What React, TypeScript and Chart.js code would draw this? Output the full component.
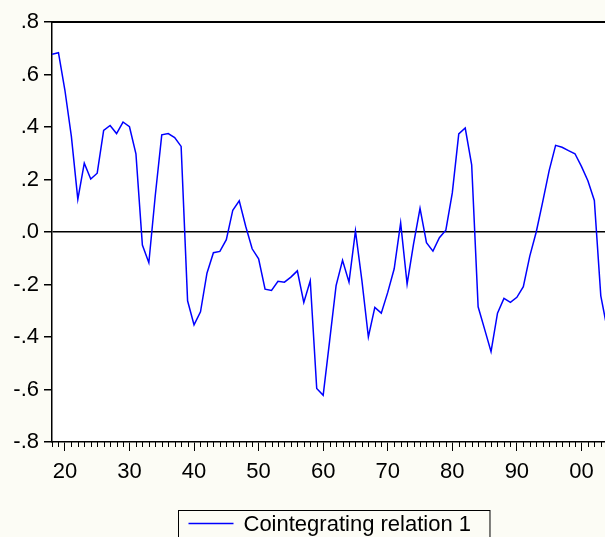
import React, { useEffect, useRef } from 'react';
import { Chart, registerables } from 'chart.js';

Chart.register(...registerables);

// ---- data ----
const years = [
  1918, 1919, 1920, 1921, 1922, 1923, 1924, 1925, 1926, 1927,
  1928, 1929, 1930, 1931, 1932, 1933, 1934, 1935, 1936, 1937,
  1938, 1939, 1940, 1941, 1942, 1943, 1944, 1945, 1946, 1947,
  1948, 1949, 1950, 1951, 1952, 1953, 1954, 1955, 1956, 1957,
  1958, 1959, 1960, 1961, 1962, 1963, 1964, 1965, 1966, 1967,
  1968, 1969, 1970, 1971, 1972, 1973, 1974, 1975, 1976, 1977,
  1978, 1979, 1980, 1981, 1982, 1983, 1984, 1985, 1986, 1987,
  1988, 1989, 1990, 1991, 1992, 1993, 1994, 1995, 1996, 1997,
  1998, 1999, 2000, 2001, 2002, 2003, 2004,
];

const cointegratingRelation1 = [
  0.677, 0.683, 0.54, 0.364, 0.124, 0.262, 0.202, 0.224, 0.387, 0.406,
  0.375, 0.419, 0.401, 0.298, -0.05, -0.117, 0.14, 0.37, 0.375, 0.36,
  0.326, -0.262, -0.354, -0.304, -0.157, -0.079, -0.074, -0.029, 0.083, 0.119,
  0.022, -0.064, -0.102, -0.218, -0.223, -0.188, -0.191, -0.172, -0.148, -0.268,
  -0.186, -0.596, -0.622, -0.415, -0.204, -0.108, -0.191, 0.004, -0.185, -0.4,
  -0.287, -0.309, -0.23, -0.14, 0.035, -0.198, -0.045, 0.09, -0.041, -0.073,
  -0.022, 0.007, 0.149, 0.374, 0.396, 0.256, -0.285, -0.37, -0.456, -0.309,
  -0.253, -0.268, -0.249, -0.208, -0.092, 0.0, 0.115, 0.234, 0.33, 0.323,
  0.31, 0.298, 0.25, 0.195, 0.12, -0.243, -0.37,
];

const seriesLabel = 'Cointegrating relation 1';
const xMajorTicks = [1920, 1930, 1940, 1950, 1960, 1970, 1980, 1990, 2000];
const yTickValues = [-0.8, -0.6, -0.4, -0.2, 0, 0.2, 0.4, 0.6, 0.8];

const FONT = '"Liberation Sans", Arial, sans-serif';
const PAGE_BG = '#fcfcf5';

const backgroundPlugin = {
  id: 'bgPlugin',
  beforeDraw(chart: any) {
    const { ctx, chartArea, width, height } = chart;
    ctx.save();
    ctx.fillStyle = PAGE_BG;
    ctx.fillRect(0, 0, width, height);
    ctx.fillStyle = '#ffffff';
    ctx.fillRect(chartArea.left, chartArea.top, chartArea.right - chartArea.left, chartArea.bottom - chartArea.top);
    ctx.restore();
  },
};

const framePlugin = {
  id: 'framePlugin',
  afterDraw(chart: any) {
    const { ctx, chartArea } = chart;
    const xScale = chart.scales.x;
    ctx.save();
    ctx.strokeStyle = '#000';
    ctx.lineWidth = 2;
    ctx.beginPath();
    ctx.moveTo(chartArea.left, chartArea.top);
    ctx.lineTo(chartArea.right, chartArea.top);
    ctx.stroke();
    ctx.lineWidth = 1;
    ctx.beginPath();
    years.forEach((yr) => {
      if (xMajorTicks.includes(yr)) return;
      const px = Math.round(xScale.getPixelForValue(yr)) + 0.5;
      if (px < chartArea.left || px > chartArea.right) return;
      ctx.moveTo(px, chartArea.bottom);
      ctx.lineTo(px, chartArea.bottom + 5);
    });
    ctx.stroke();
    ctx.restore();
  },
};

const legendBoxPlugin = {
  id: 'legendBoxPlugin',
  afterDraw(chart: any) {
    const { ctx, chartArea } = chart;
    const ds = chart.data.datasets[0];
    ctx.save();
    ctx.font = '22px ' + FONT;
    const text = ds.label as string;
    const tw = ctx.measureText(text).width;
    const padL = 10, lineLen = 45, gap = 10, padR = 19;
    const boxW = padL + lineLen + gap + tw + padR;
    const cx = (chartArea.left + chartArea.right) / 2 + 5;
    const left = Math.round(cx - boxW / 2) + 0.5;
    const top = 510.5;
    ctx.strokeStyle = '#000';
    ctx.lineWidth = 1;
    ctx.strokeRect(left, top, boxW, 40);
    const midY = 523.5;
    ctx.strokeStyle = ds.borderColor;
    ctx.lineWidth = 1.5;
    ctx.beginPath();
    ctx.moveTo(left + padL, midY);
    ctx.lineTo(left + padL + lineLen, midY);
    ctx.stroke();
    ctx.fillStyle = '#000';
    ctx.textBaseline = 'middle';
    ctx.textAlign = 'left';
    ctx.fillText(text, left + padL + lineLen + gap, midY + 1);
    ctx.restore();
  },
};

export default function App() {
  const canvasRef = useRef<HTMLCanvasElement | null>(null);

  useEffect(() => {
    const canvas = canvasRef.current;
    if (!canvas) return;
    const points = years.map((yr, i) => ({ x: yr, y: cointegratingRelation1[i] }));
    const chart = new Chart(canvas, {
      type: 'line',
      data: {
        datasets: [
          {
            label: seriesLabel,
            data: points,
            borderColor: '#0000ff',
            borderWidth: 1.5,
            pointRadius: 0,
            tension: 0,
            fill: false,
          },
        ],
      },
      options: {
        animation: false,
        responsive: false,
        devicePixelRatio: 1,
        layout: { padding: { top: 22, left: 0, right: 0, bottom: 0 } },
        plugins: {
          legend: { display: false },
          tooltip: { enabled: false },
        },
        scales: {
          x: {
            type: 'linear',
            min: 1918,
            max: 2003.65,
            afterBuildTicks: (scale: any) => {
              scale.ticks = xMajorTicks.map((v) => ({ value: v }));
            },
            afterFit: (scale: any) => {
              scale.height = 95;
            },
            ticks: {
              autoSkip: false,
              maxRotation: 0,
              padding: 8,
              color: '#000',
              font: { family: FONT, size: 22 },
              callback: (v: any) => String(Number(v) % 100).padStart(2, '0'),
            },
            grid: {
              drawOnChartArea: false,
              drawTicks: true,
              tickLength: 9,
              color: '#000',
              lineWidth: 1,
            },
            border: { display: true, color: '#000', width: 1.5 },
          },
          y: {
            type: 'linear',
            min: -0.8,
            max: 0.8,
            afterBuildTicks: (scale: any) => {
              scale.ticks = yTickValues.map((v) => ({ value: v }));
            },
            afterFit: (scale: any) => {
              scale.width = 52;
            },
            ticks: {
              padding: 5,
              color: '#000',
              font: { family: FONT, size: 22 },
              callback: (v: any) => {
                const s = Number(v).toFixed(1);
                if (s === '0.0' || s === '-0.0') return '.0';
                return s.replace('0.', '.');
              },
            },
            grid: {
              drawOnChartArea: true,
              drawTicks: true,
              tickLength: 8,
              color: (ctx: any) => (ctx.tick && Math.abs(ctx.tick.value) < 1e-9 ? '#000' : 'rgba(0,0,0,0)'),
              tickColor: '#000',
              lineWidth: 1.5,
            },
            border: { display: true, color: '#000', width: 1.5 },
          },
        },
      },
      plugins: [backgroundPlugin, framePlugin, legendBoxPlugin],
    } as any);
    return () => chart.destroy();
  }, []);

  return (
    <div style={{ position: 'fixed', left: 0, top: 0, width: 605, height: 537, background: PAGE_BG }}>
      <canvas ref={canvasRef} width={605} height={537} style={{ display: 'block', width: 605, height: 537 }} />
    </div>
  );
}
